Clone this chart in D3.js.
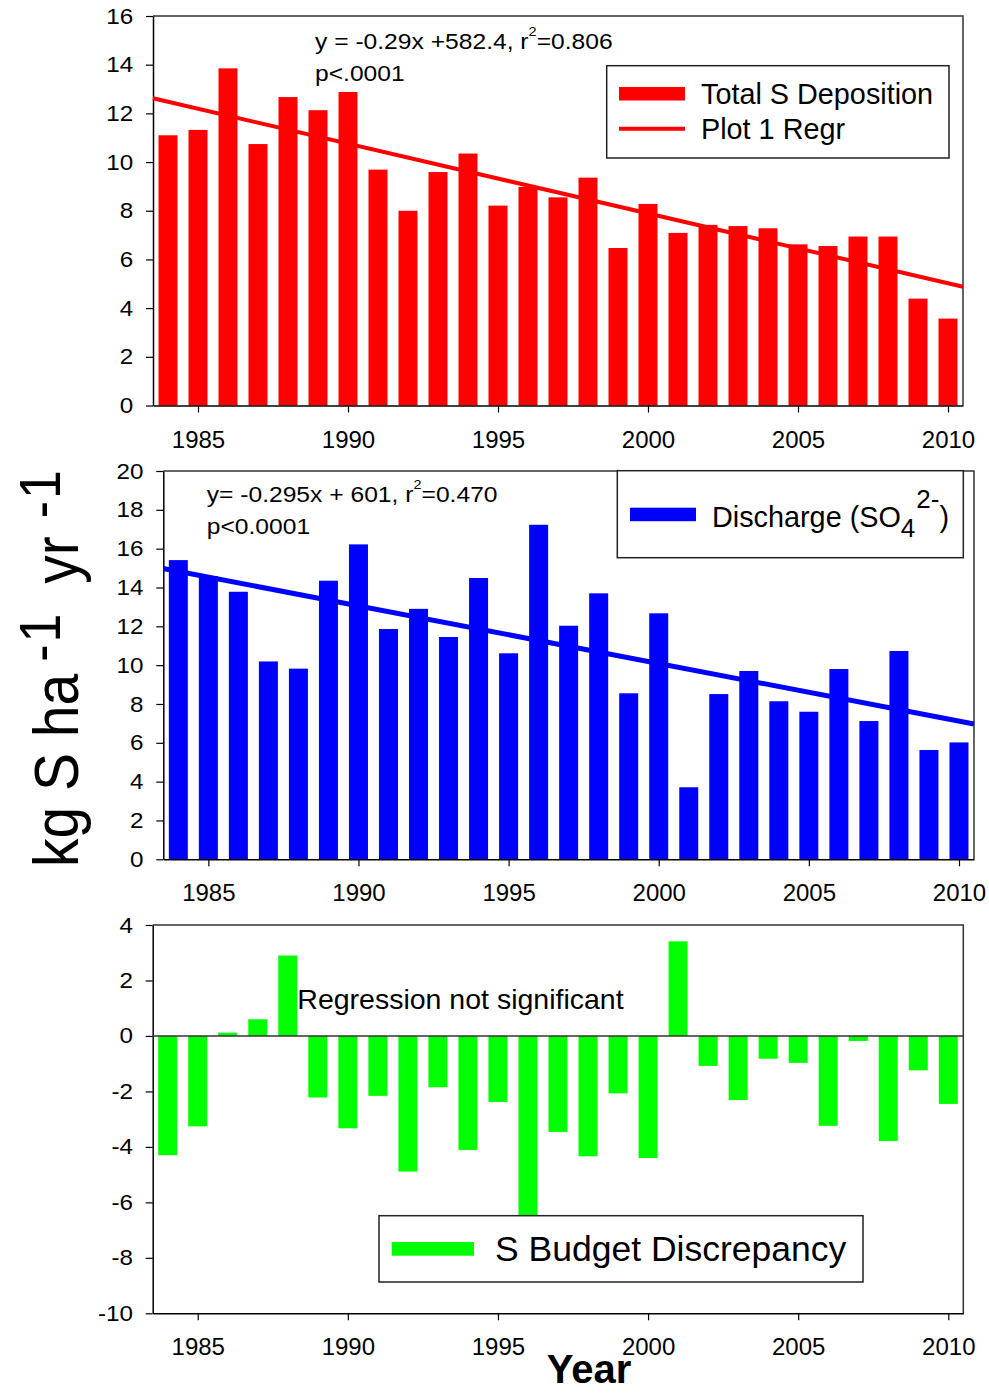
<!DOCTYPE html>
<html>
<head>
<meta charset="utf-8">
<script src="https://cdn.jsdelivr.net/npm/d3@7"></script>
<style>
  body { margin: 0; background: #fff; }
  text { font-family: "Liberation Sans", Arial, sans-serif; fill: #000; }
</style>
</head>
<body>
<div id="chart"></div>
<script>
// years on the x axis
const years = [1984, 1985, 1986, 1987, 1988, 1989, 1990, 1991, 1992, 1993, 1994, 1995, 1996,
  1997, 1998, 1999, 2000, 2001, 2002, 2003, 2004, 2005, 2006, 2007, 2008, 2009, 2010];
const xTicks = [1985, 1990, 1995, 2000, 2005, 2010];

// kg S / ha / yr
const deposition = [11.1, 11.32, 13.85, 10.74, 12.67, 12.13, 12.88, 9.69, 8.0, 9.59, 10.35, 8.21, 8.98,
  8.55, 9.36, 6.47, 8.28, 7.09, 7.42, 7.37, 7.28, 6.62, 6.55, 6.94, 6.94, 4.39, 3.57];
const discharge = [15.41, 14.59, 13.78, 10.19, 9.82, 14.35, 16.22, 11.86, 12.9, 11.45, 14.49, 10.61, 17.23,
  12.03, 13.7, 8.55, 12.67, 3.71, 8.51, 9.7, 8.14, 7.6, 9.8, 7.12, 10.73, 5.63, 6.02];
const discrepancy = [-4.3, -3.26, 0.12, 0.6, 2.9, -2.22, -3.33, -2.16, -4.89, -1.85, -4.11, -2.38, -8.25,
  -3.46, -4.34, -2.07, -4.4, 3.41, -1.08, -2.31, -0.82, -0.97, -3.24, -0.18, -3.79, -1.24, -2.45];

// regression lines, end points
const fitYears = [1983.5, 2010.5];
const depositionFit = [12.62, 4.88];
const dischargeFit = [14.98, 6.97];

const yTicksTop = [0, 2, 4, 6, 8, 10, 12, 14, 16];
const yTicksMid = [0, 2, 4, 6, 8, 10, 12, 14, 16, 18, 20];
const yTicksBot = [-10, -8, -6, -4, -2, 0, 2, 4];

const width = 989, height = 1393;

const svg = d3.select("#chart").append("svg")
  .attr("width", width)
  .attr("height", height)
  .style("background", "#fff");

// draw one panel: bars, axes, frame; returns scales
function drawPanel(box, values, yDomain, yTicks, color) {
  const x = d3.scaleLinear().domain([1983.5, 2010.5]).range([box.left, box.right]);
  const y = d3.scaleLinear().domain(yDomain).range([box.bottom, box.top]);
  const barW = (x(1) - x(0)) * 0.633;
  const g = svg.append("g");

  g.selectAll("rect.bar")
    .data(years.map((yr, i) => ({ yr, v: values[i] })))
    .enter().append("rect")
    .attr("class", "bar")
    .attr("x", d => x(d.yr) - barW / 2)
    .attr("width", barW)
    .attr("y", d => y(Math.max(0, d.v)))
    .attr("height", d => Math.abs(y(d.v) - y(0)))
    .attr("fill", color);

  // frame top + right
  g.append("path")
    .attr("d", `M${box.left},${box.top}H${box.right}V${box.bottom}`)
    .attr("fill", "none")
    .attr("stroke", "#333")
    .attr("stroke-width", 1.5);

  const yAxis = g.append("g")
    .attr("transform", `translate(${box.left},0)`)
    .call(d3.axisLeft(y).tickValues(yTicks).tickSize(7).tickSizeOuter(0)
      .tickPadding(11).tickFormat(d => String(d)));
  yAxis.selectAll("text")
    .attr("font-size", 22)
    .attr("transform", "scale(1.1,1)");

  const xAxis = g.append("g")
    .attr("transform", `translate(0,${box.bottom})`)
    .call(d3.axisBottom(x).tickValues(xTicks).tickSize(7).tickSizeOuter(0)
      .tickPadding(18).tickFormat(d3.format("d")));
  xAxis.selectAll("text").attr("font-size", 24);

  [yAxis, xAxis].forEach(a => {
    a.select(".domain").attr("stroke", "#000").attr("stroke-width", 1.5);
    a.selectAll(".tick line").attr("stroke", "#000").attr("stroke-width", 1.2);
    a.selectAll("text").style("font-family", "'Liberation Sans', Arial, sans-serif").attr("fill", "#000");
  });
  return { x, y, g };
}

function drawFit(p, fit, color, w) {
  const line = d3.line().x(d => p.x(d[0])).y(d => p.y(d[1]));
  p.g.append("path")
    .datum(fitYears.map((yr, i) => [yr, fit[i]]))
    .attr("d", line)
    .attr("fill", "none")
    .attr("stroke", color)
    .attr("stroke-width", w);
}

function legendBox(x, y, w, h) {
  svg.append("rect")
    .attr("x", x).attr("y", y).attr("width", w).attr("height", h)
    .attr("fill", "#fff").attr("stroke", "#222").attr("stroke-width", 1.5);
}

// equation text (slightly wide in the original)
function equation(x, y, main, sup, rest, pText) {
  const t = svg.append("text")
    .attr("transform", `translate(${x},${y}) scale(1.12,1)`)
    .attr("font-size", 22);
  t.append("tspan").text(main);
  t.append("tspan").attr("font-size", 13).attr("dy", -13).text(sup);
  t.append("tspan").attr("dy", 13).text(rest);
  svg.append("text")
    .attr("transform", `translate(${x},${y + 32}) scale(1.12,1)`)
    .attr("font-size", 22)
    .text(pText);
}

// ---- top panel: total S deposition
const topP = drawPanel({ left: 153, right: 963, top: 16, bottom: 405.5 }, deposition, [0, 16], yTicksTop, "#ff0000");
drawFit(topP, depositionFit, "#ff0000", 4);
equation(315, 49, "y = -0.29x +582.4, r", "2", "=0.806", "p<.0001");
legendBox(606.7, 65.7, 342.3, 92.3);
svg.append("rect").attr("x", 619).attr("y", 87).attr("width", 66).attr("height", 13.5).attr("fill", "#ff0000");
svg.append("line").attr("x1", 619).attr("x2", 685).attr("y1", 128.7).attr("y2", 128.7)
  .attr("stroke", "#ff0000").attr("stroke-width", 4);
svg.append("text").attr("x", 701).attr("y", 104).attr("font-size", 28.8).text("Total S Deposition");
svg.append("text").attr("x", 701).attr("y", 138.5).attr("font-size", 28.8).text("Plot 1 Regr");

// ---- middle panel: discharge
const midP = drawPanel({ left: 163.3, right: 974, top: 471, bottom: 859.3 }, discharge, [0, 20], yTicksMid, "#0000ff");
drawFit(midP, dischargeFit, "#0000ff", 5);
equation(206.7, 502, "y= -0.295x + 601, r", "2", "=0.470", "p<0.0001");
legendBox(617.3, 470.7, 346, 87);
svg.append("rect").attr("x", 630).attr("y", 507.7).attr("width", 66).attr("height", 13.5).attr("fill", "#0000ff");
const dl = svg.append("text").attr("x", 712).attr("y", 527).attr("font-size", 28.8);
dl.append("tspan").text("Discharge (SO");
dl.append("tspan").attr("font-size", 26).attr("dy", 10).text("4");
dl.append("tspan").attr("font-size", 26).attr("dx", 1).attr("dy", -29).text("2-");
dl.append("tspan").attr("dy", 19).text(")");

// ---- bottom panel: budget discrepancy
const botP = drawPanel({ left: 152.7, right: 963.3, top: 925, bottom: 1313.3 }, discrepancy, [-10, 4], yTicksBot, "#00ff00");
botP.g.append("line")
  .attr("x1", botP.x.range()[0]).attr("x2", botP.x.range()[1])
  .attr("y1", botP.y(0)).attr("y2", botP.y(0))
  .attr("stroke", "#333").attr("stroke-width", 1.5);
svg.append("text").attr("x", 297.3).attr("y", 1008.5).attr("font-size", 28.5).text("Regression not significant");
legendBox(379, 1215.7, 484, 66.3);
svg.append("rect").attr("x", 391.7).attr("y", 1242).attr("width", 82.3).attr("height", 13.7).attr("fill", "#00ff00");
svg.append("text").attr("x", 495).attr("y", 1261).attr("font-size", 35.5).text("S Budget Discrepancy");

// ---- axis titles
svg.append("text")
  .attr("x", 546.7).attr("y", 1383)
  .attr("font-size", 40).attr("font-weight", "bold")
  .text("Year");

// rotated unit label, a bit taller across than a plain font
const yt = svg.append("text")
  .attr("transform", "translate(78,867) rotate(-90) scale(1,1.12)")
  .attr("font-size", 57);
yt.append("tspan").text("kg S ha");
yt.append("tspan").attr("font-size", 52).attr("dx", 12).attr("dy", -16).text("-");
yt.append("tspan").attr("font-size", 52).attr("dx", 2).text("1");
yt.append("tspan").attr("dx", 14).attr("dy", 16).text(" yr");
yt.append("tspan").attr("font-size", 52).attr("dx", 18).attr("dy", -16).text("-");
yt.append("tspan").attr("font-size", 52).attr("dx", 2).text("1");
</script>
</body>
</html>
